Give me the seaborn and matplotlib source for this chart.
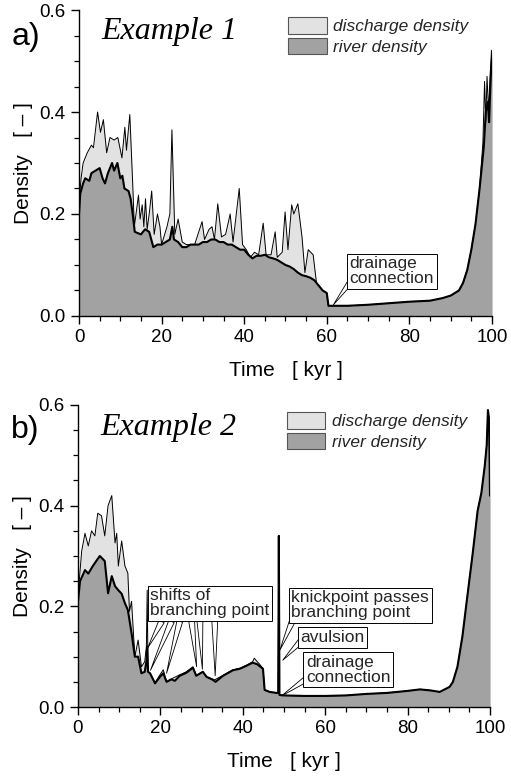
import numpy as np
import pandas as pd
import matplotlib
matplotlib.use('Agg')
import matplotlib.pyplot as plt
import seaborn as sns
from matplotlib.patches import Patch
from matplotlib.ticker import MultipleLocator

# ---------------- data ----------------
# Example 1
time_river_a = [0, 0.3, 1, 1.5, 2.5, 3, 4, 5, 5.7, 6.3, 7, 8, 8.5, 9.3, 10, 10.5, 11, 12, 12.5, 13,
                13.5, 15, 16, 17, 18, 19, 20, 21, 22, 22.6, 23, 24, 25, 26, 27, 28, 29, 30, 31, 32,
                33, 34, 35, 36, 37, 38, 39, 40, 41, 42, 43, 44, 45, 46, 47, 48, 49, 50, 51, 52,
                53, 54, 55, 56, 57, 58, 59, 60, 60.4, 62, 65, 70, 75, 80, 85, 88, 90, 92, 93, 94,
                95, 96, 97, 98, 98.5, 99, 99.3, 99.6, 100]
river_a = [0.20, 0.24, 0.26, 0.27, 0.265, 0.28, 0.285, 0.29, 0.27, 0.26, 0.28, 0.30, 0.285, 0.30, 0.27,
           0.275, 0.25, 0.245, 0.23, 0.20, 0.165, 0.16, 0.17, 0.165, 0.135, 0.14, 0.14, 0.145, 0.15,
           0.175, 0.15, 0.145, 0.135, 0.135, 0.14, 0.14, 0.14, 0.145, 0.145, 0.15, 0.15, 0.145, 0.145,
           0.14, 0.14, 0.135, 0.13, 0.13, 0.12, 0.113, 0.118, 0.118, 0.12, 0.115, 0.113, 0.11, 0.105,
           0.10, 0.097, 0.092, 0.085, 0.08, 0.078, 0.075, 0.07, 0.06, 0.05, 0.045, 0.02, 0.02, 0.02,
           0.022, 0.025, 0.028, 0.03, 0.035, 0.04, 0.05, 0.065, 0.09, 0.13, 0.18, 0.25, 0.33, 0.40,
           0.42, 0.38, 0.45, 0.52]

time_discharge_a = [0, 0.5, 1, 2, 3, 3.5, 4.5, 5.2, 5.9, 6.7, 7.5, 8.5, 9.4, 10.4, 11.1, 11.5, 12.3, 13,
                    13.4, 14.4, 14.8, 15.3, 15.7, 16.1, 16.5, 17.0, 17.6, 18.2, 19.0, 19.6, 20, 21.3,
                    22, 22.5, 23.2, 24, 25, 26, 27, 28, 29.8, 30.4, 31.5, 32.2, 32.8, 33.6, 34.5, 35.5,
                    36.6, 37.3, 38.8, 39.6, 40.5, 41.5, 42.5, 43.5, 44.6, 45.3, 46.5, 47.5, 48, 49.2,
                    49.9, 50.6, 51.5, 52, 53, 54, 54.7, 55.5, 56.7, 57.5, 58, 59, 60, 60.4, 62, 65, 70,
                    75, 80, 85, 88, 90, 92, 93, 94, 95, 96, 97, 97.8, 98.2, 98.5, 98.8, 99.2, 99.6, 100]
discharge_a = [0.22, 0.27, 0.30, 0.32, 0.335, 0.33, 0.40, 0.36, 0.385, 0.32, 0.35, 0.345, 0.35, 0.31,
               0.37, 0.325, 0.395, 0.26, 0.175, 0.237, 0.19, 0.218, 0.175, 0.23, 0.17, 0.20, 0.245, 0.16,
               0.20, 0.175, 0.14, 0.175, 0.20, 0.365, 0.16, 0.19, 0.145, 0.14, 0.14, 0.14, 0.185, 0.15,
               0.17, 0.175, 0.15, 0.22, 0.155, 0.16, 0.20, 0.145, 0.25, 0.14, 0.13, 0.115, 0.125, 0.12,
               0.182, 0.12, 0.12, 0.165, 0.115, 0.125, 0.204, 0.13, 0.218, 0.20, 0.22, 0.155, 0.085,
               0.13, 0.12, 0.065, 0.06, 0.05, 0.045, 0.02, 0.02, 0.02, 0.022, 0.025, 0.028, 0.03, 0.035,
               0.04, 0.05, 0.065, 0.09, 0.13, 0.18, 0.25, 0.34, 0.46, 0.38, 0.47, 0.40, 0.48, 0.52]

# Example 2
time_river_b = [0, 0.5, 1.7, 2.5, 3.6, 4.6, 5.3, 6.5, 7.3, 8.2, 9, 9.8, 10.6, 11.4, 12.1, 13, 13.8, 14.6,
                15.4, 16.2, 16.6, 16.8, 17.0, 17.5, 18.7, 19.9, 20.7, 21.5, 22.7, 23.5, 24.7, 26.3,
                27.9, 28.7, 30.3, 31.2, 32.5, 33.4, 35.2, 37.6, 39.3, 40.9, 42.4, 43.5, 44.9, 45.3,
                46.5, 48.2, 48.6, 48.75, 48.9, 50, 55, 60, 65, 70, 75, 80, 83, 85.5, 87.8, 90.2, 91,
                92.1, 93.3, 94.5, 95.8, 97, 97.9, 98.7, 99.2, 99.5, 99.8, 100]
river_b = [0.21, 0.25, 0.272, 0.265, 0.28, 0.292, 0.30, 0.29, 0.226, 0.26, 0.24, 0.232, 0.225, 0.206,
           0.193, 0.147, 0.10, 0.10, 0.067, 0.07, 0.09, 0.12, 0.07, 0.067, 0.047, 0.06, 0.067, 0.05,
           0.055, 0.052, 0.062, 0.068, 0.078, 0.062, 0.07, 0.06, 0.055, 0.05, 0.062, 0.073, 0.076,
           0.082, 0.088, 0.085, 0.076, 0.034, 0.03, 0.028, 0.028, 0.34, 0.024, 0.023, 0.022, 0.022,
           0.023, 0.026, 0.028, 0.032, 0.035, 0.033, 0.03, 0.04, 0.05, 0.08, 0.14, 0.22, 0.305, 0.39,
           0.425, 0.477, 0.52, 0.59, 0.57, 0.42]

time_discharge_b = [0, 0.9, 1.7, 2.5, 3.3, 4.1, 4.8, 5.7, 6.5, 7.3, 8.2, 9, 9.4, 9.8, 10.6, 11.4, 12.1,
                    12.5, 13, 13.8, 14.6, 15.4, 16.2, 16.6, 16.8, 17.0, 17.5, 18.7, 19.9, 20.7, 21.5,
                    22.7, 24.7, 26.3, 27.9, 28.7, 30.3, 31.2, 32.5, 33.2, 35.2, 37.6, 39.3, 40.9, 42.4,
                    42.8, 43.5, 44.1, 44.9, 45.3, 46.5, 48.2, 48.6, 48.75, 48.9, 50, 55, 60, 65, 70, 75,
                    80, 83, 85.5, 87.8, 90.2, 91, 92.1, 93.3, 94.5, 95.8, 97, 97.9, 98.7, 99.2, 99.5,
                    99.8, 100]
discharge_b = [0.22, 0.31, 0.345, 0.32, 0.35, 0.34, 0.385, 0.38, 0.34, 0.40, 0.42, 0.326, 0.345, 0.28,
               0.33, 0.28, 0.266, 0.19, 0.21, 0.10, 0.133, 0.08, 0.09, 0.12, 0.232, 0.07, 0.067, 0.048,
               0.064, 0.074, 0.05, 0.056, 0.064, 0.07, 0.08, 0.063, 0.07, 0.06, 0.056, 0.054, 0.063,
               0.074, 0.077, 0.083, 0.09, 0.097, 0.09, 0.085, 0.076, 0.034, 0.03, 0.028, 0.028, 0.34,
               0.024, 0.023, 0.022, 0.022, 0.023, 0.026, 0.028, 0.032, 0.035, 0.033, 0.03, 0.04, 0.05,
               0.08, 0.14, 0.22, 0.305, 0.39, 0.425, 0.477, 0.52, 0.59, 0.57, 0.42]

legend_labels = ['discharge density', 'river density']
x_ticks = [0, 20, 40, 60, 80, 100]
y_ticks = [0.0, 0.2, 0.4, 0.6]

# ---------------- styling ----------------
sns.set_theme(style='ticks')
plt.rcParams['font.family'] = ['Liberation Sans', 'DejaVu Sans']

LIGHT = '#e2e2e2'
DARK = '#a2a2a2'

fig = plt.figure(figsize=(5.11, 7.76), dpi=100)
ax_a = fig.add_axes([0.1546, 0.5928, 0.8082, 0.3943])
ax_b = fig.add_axes([0.1526, 0.0889, 0.8063, 0.3892])


def draw_panel(ax, t_r, r, t_d, d, title, title_y):
    df_r = pd.DataFrame({'time': t_r, 'density': r})
    df_d = pd.DataFrame({'time': t_d, 'density': d})
    ax.fill_between(df_d['time'], 0, df_d['density'], color=LIGHT, lw=0, zorder=1)
    ax.fill_between(df_r['time'], 0, df_r['density'], color=DARK, lw=0, zorder=2)
    sns.lineplot(data=df_d, x='time', y='density', ax=ax, color='black', lw=0.7,
                 estimator=None, sort=False, zorder=3)
    sns.lineplot(data=df_r, x='time', y='density', ax=ax, color='black', lw=1.5,
                 estimator=None, sort=False, zorder=4)
    ax.set_xlim(0, 100)
    ax.set_ylim(0, 0.6)
    ax.set_xticks(x_ticks)
    ax.set_xticklabels([str(v) for v in x_ticks])
    ax.set_yticks(y_ticks)
    ax.set_yticklabels(['%.1f' % v for v in y_ticks])
    ax.xaxis.set_minor_locator(MultipleLocator(5))
    ax.yaxis.set_minor_locator(MultipleLocator(0.05))
    ax.tick_params(which='major', direction='out', length=6, width=1.0, labelsize=13.5,
                   color='black', labelcolor='black')
    ax.tick_params(which='minor', direction='out', length=3.5, width=0.9, color='black')
    for s in ['top', 'right']:
        ax.spines[s].set_visible(False)
    for s in ['left', 'bottom']:
        ax.spines[s].set_color('black')
        ax.spines[s].set_linewidth(1.0)
    ax.set_xlabel('Time   [ kyr ]', fontsize=15, color='black', labelpad=11)
    ax.set_ylabel('Density   [ \u2013 ]', fontsize=15, color='black', labelpad=5)
    ax.set_facecolor('white')
    ax.text(0.055, title_y, title, transform=ax.transAxes, fontsize=23, style='italic',
            family=['Liberation Serif', 'DejaVu Serif'], va='center', ha='left', color='black')
    handles = [Patch(facecolor=LIGHT, edgecolor='#555555', lw=0.8),
               Patch(facecolor=DARK, edgecolor='#555555', lw=0.8)]
    ax.legend(handles, legend_labels, loc='upper left', bbox_to_anchor=(0.49, 1.0),
              frameon=False, handlelength=2.2, handleheight=1.1, handletextpad=0.4,
              labelspacing=0.2, borderaxespad=0.0,
              prop={'size': 12.5, 'style': 'italic', 'family': 'Liberation Sans'})


draw_panel(ax_a, time_river_a, river_a, time_discharge_a, discharge_a, 'Example 1', 0.93)
draw_panel(ax_b, time_river_b, river_b, time_discharge_b, discharge_b, 'Example 2', 0.924)

fig.text(0.022, 0.952, 'a)', fontsize=23, va='center', ha='left', color='black')
fig.text(0.022, 0.446, 'b)', fontsize=23, va='center', ha='left', color='black')

box = dict(boxstyle='square,pad=0.15', fc='white', ec='black', lw=0.7)
wedge = dict(arrowstyle='wedge,tail_width=0.35', fc='white', ec='black', lw=0.6,
             shrinkA=0, shrinkB=0)
ANN = 12.5

# panel a annotation
ax_a.annotate('', xy=(61.6, 0.022), xytext=(66.0, 0.07), arrowprops=wedge, zorder=5)
ax_a.text(65.5, 0.088, 'drainage\nconnection', fontsize=ANN, ha='left', va='center',
          bbox=box, zorder=6, linespacing=1.0)

# panel b annotations
shift_links = [((20.3, 0.17), (16.9, 0.117)), ((22.7, 0.17), (17.6, 0.073)),
               ((24.7, 0.17), (21.5, 0.067)), ((27.6, 0.17), (28.8, 0.08)),
               ((29.6, 0.17), (30.2, 0.075)), ((33.2, 0.17), (33.3, 0.062))]
for src, tip in shift_links:
    ax_b.annotate('', xy=tip, xytext=src, arrowprops=wedge, zorder=5)
ax_b.text(17.6, 0.206, 'shifts of\nbranching point', fontsize=ANN, ha='left', va='center',
          bbox=box, zorder=6, linespacing=1.0)

ax_b.annotate('', xy=(49.0, 0.113), xytext=(52.0, 0.17), arrowprops=wedge, zorder=5)
ax_b.text(51.8, 0.202, 'knickpoint passes\nbranching point', fontsize=ANN, ha='left',
          va='center', bbox=box, zorder=6, linespacing=1.0)

ax_b.annotate('', xy=(49.7, 0.093), xytext=(54.0, 0.13), arrowprops=wedge, zorder=5)
ax_b.text(54.0, 0.138, 'avulsion', fontsize=ANN, ha='left', va='center', bbox=box, zorder=6)

ax_b.annotate('', xy=(49.4, 0.022), xytext=(55.3, 0.055), arrowprops=wedge, zorder=5)
ax_b.text(55.3, 0.074, 'drainage\nconnection', fontsize=ANN, ha='left', va='center',
          bbox=box, zorder=6, linespacing=1.0)

fig.savefig('out.png', dpi=100, facecolor='white')
